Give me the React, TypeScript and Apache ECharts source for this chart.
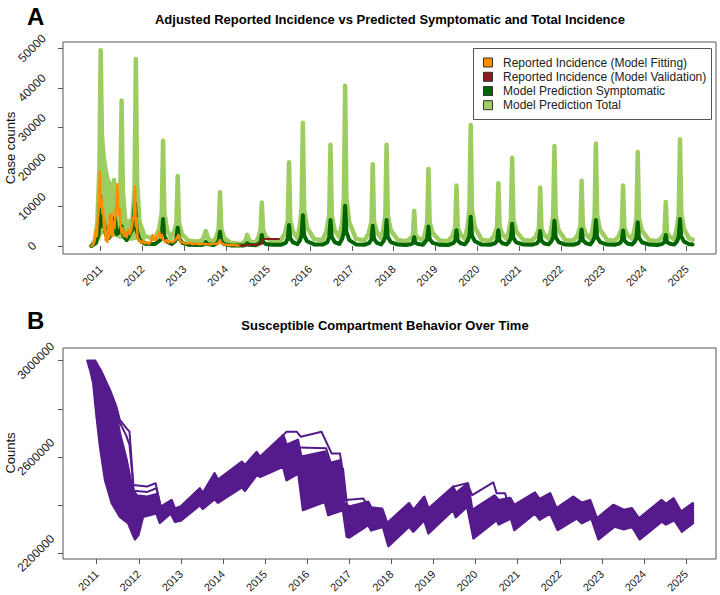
import React, { useEffect, useRef } from "react";
import * as echarts from "echarts";

const FONT = '"Liberation Sans", Arial, Helvetica, sans-serif';

const years = [2011, 2012, 2013, 2014, 2015, 2016, 2017, 2018, 2019, 2020, 2021, 2022, 2023, 2024, 2025];
const caseTicks = [0, 10000, 20000, 30000, 40000, 50000];
const countTicks = [2200000, 2400000, 2600000, 2800000, 3000000];
const countLabels = [2200000, 2600000, 3000000];

// Panel A: Model prediction total (light green)
const totalPrediction = [
  [2010.78, 0], [2010.86, 1500], [2010.92, 6000], [2010.97, 20000], [2011.0, 49500], [2011.03, 28000],
  [2011.07, 22600], [2011.12, 19000], [2011.18, 12000], [2011.24, 9000], [2011.29, 12000], [2011.32, 16700],
  [2011.36, 9000], [2011.42, 8000], [2011.47, 14000], [2011.5, 36800], [2011.53, 14000], [2011.59, 6000],
  [2011.68, 3500], [2011.76, 7000], [2011.81, 15000], [2011.84, 47300], [2011.87, 16000], [2011.93, 6000],
  [2012.05, 2500], [2012.3, 1800], [2012.4, 4500], [2012.46, 8500], [2012.49, 26600], [2012.52, 8500],
  [2012.59, 4000], [2012.68, 2000], [2012.76, 3800], [2012.81, 6000], [2012.84, 17700], [2012.87, 6000],
  [2012.94, 3000], [2013.1, 1300], [2013.35, 1100], [2013.45, 1800], [2013.51, 3800], [2013.57, 1800],
  [2013.7, 1000], [2013.77, 2500], [2013.82, 4500], [2013.85, 13600], [2013.88, 4500], [2013.95, 2000],
  [2014.1, 800], [2014.35, 500], [2014.45, 1200], [2014.5, 2800], [2014.56, 1200], [2014.7, 800],
  [2014.77, 2300], [2014.82, 4000], [2014.85, 11000], [2014.88, 4000], [2014.95, 2200], [2015.1, 1200],
  [2015.3, 1400], [2015.4, 3100], [2015.47, 6400], [2015.5, 21200], [2015.53, 6400], [2015.6, 3500],
  [2015.7, 2000], [2015.75, 4700], [2015.8, 9400], [2015.83, 31200], [2015.86, 9400], [2015.93, 4700], [2016.1, 1700],
  [2016.3, 1500], [2016.39, 3600], [2016.46, 7700], [2016.49, 25600], [2016.52, 7700], [2016.59, 4000],
  [2016.7, 2200], [2016.77, 5900], [2016.81, 12200], [2016.84, 40500], [2016.87, 12200], [2016.94, 5900], [2017.1, 1800],
  [2017.3, 1400], [2017.4, 3100], [2017.47, 6200], [2017.5, 20700], [2017.53, 6200], [2017.6, 3500],
  [2017.7, 2000], [2017.75, 4000], [2017.8, 7700], [2017.83, 25600], [2017.86, 7700], [2017.93, 4000], [2018.1, 1500],
  [2018.3, 1200], [2018.4, 1900], [2018.46, 2700], [2018.49, 8900], [2018.52, 2700], [2018.59, 2000],
  [2018.7, 1500], [2018.75, 3300], [2018.8, 5900], [2018.83, 19500], [2018.86, 5900], [2018.93, 3300], [2019.1, 1400],
  [2019.3, 1200], [2019.4, 2500], [2019.47, 4600], [2019.5, 15300], [2019.53, 4600], [2019.6, 2800],
  [2019.7, 1800], [2019.76, 4700], [2019.81, 9200], [2019.84, 30600], [2019.87, 9200], [2019.94, 4700], [2020.1, 1600],
  [2020.3, 1300], [2020.4, 2600], [2020.47, 4800], [2020.5, 15900], [2020.53, 4800], [2020.6, 2900],
  [2020.7, 1800], [2020.75, 3700], [2020.8, 6700], [2020.83, 22300], [2020.86, 6700], [2020.93, 3700], [2021.1, 1500],
  [2021.3, 1300], [2021.4, 2500], [2021.47, 4400], [2021.5, 14800], [2021.53, 4400], [2021.6, 2800],
  [2021.7, 1800], [2021.76, 4000], [2021.81, 7600], [2021.84, 25300], [2021.87, 7600], [2021.94, 4000], [2022.1, 1500],
  [2022.29, 1300], [2022.39, 2600], [2022.46, 5000], [2022.49, 16500], [2022.52, 5000], [2022.59, 3000],
  [2022.7, 1800], [2022.75, 4100], [2022.8, 7800], [2022.83, 25900], [2022.86, 7800], [2022.93, 4100], [2023.1, 1500],
  [2023.28, 1300], [2023.38, 2500], [2023.45, 4600], [2023.48, 15300], [2023.51, 4600], [2023.58, 2800],
  [2023.7, 1800], [2023.75, 3900], [2023.8, 7100], [2023.83, 23800], [2023.86, 7100], [2023.93, 3900], [2024.1, 1500],
  [2024.3, 1200], [2024.4, 2100], [2024.47, 3300], [2024.5, 11100], [2024.53, 3300], [2024.6, 2300],
  [2024.7, 1700], [2024.76, 4200], [2024.81, 8100], [2024.84, 27000], [2024.87, 8100], [2024.94, 4200],
  [2025.05, 2000], [2025.14, 1600],
];

// Spread of total-prediction trajectories during the first epidemic year
const totalSpreadUpper = [
  [2010.84, 500], [2010.9, 5000], [2010.94, 12000], [2010.98, 30000], [2011.03, 26000], [2011.08, 22600],
  [2011.14, 19500], [2011.2, 17000], [2011.26, 15500], [2011.32, 16700], [2011.37, 12000], [2011.42, 10500],
  [2011.48, 12000], [2011.55, 10000], [2011.62, 6600], [2011.7, 6600], [2011.77, 7500], [2011.83, 12000],
  [2011.9, 6000], [2011.97, 3000], [2012.05, 2000],
];
const totalSpreadLower = [
  [2010.84, 0], [2010.92, 500], [2011.0, 2500], [2011.08, 4000], [2011.16, 3500], [2011.26, 2500],
  [2011.36, 2500], [2011.46, 2000], [2011.56, 1800], [2011.66, 1500], [2011.76, 1500], [2011.86, 1800],
  [2011.96, 1500], [2012.05, 1200],
];

// Panel A: Model prediction symptomatic (dark green)
const symptomaticPrediction = [
  [2010.78, 0], [2010.88, 800], [2010.95, 3000], [2010.99, 12500], [2011.03, 5000], [2011.08, 6000],
  [2011.12, 3000], [2011.2, 2000], [2011.28, 3500], [2011.34, 7100], [2011.38, 3000], [2011.45, 3500],
  [2011.5, 5000], [2011.55, 2500], [2011.62, 1500], [2011.7, 3000], [2011.77, 4500], [2011.82, 10800],
  [2011.86, 4000], [2011.93, 1500], [2012.05, 600], [2012.3, 500], [2012.42, 1500], [2012.46, 2500],
  [2012.49, 6800], [2012.52, 2500], [2012.6, 1000], [2012.7, 500], [2012.78, 1200], [2012.81, 2000],
  [2012.84, 4600], [2012.87, 2000], [2012.95, 800], [2013.1, 300], [2013.4, 250], [2013.48, 500],
  [2013.51, 1000], [2013.55, 500], [2013.7, 250], [2013.78, 700], [2013.82, 1300], [2013.85, 3600],
  [2013.88, 1300], [2013.95, 500], [2014.1, 150], [2014.4, 100], [2014.47, 300], [2014.5, 700],
  [2014.55, 300], [2014.7, 200], [2014.78, 600], [2014.82, 1000], [2014.85, 2800], [2014.88, 1000],
  [2014.95, 500], [2015.1, 300],
  [2015.3, 300], [2015.42, 800], [2015.47, 1900], [2015.5, 5300], [2015.53, 1900], [2015.6, 900],
  [2015.7, 500], [2015.76, 1400], [2015.8, 2700], [2015.83, 7800], [2015.86, 2700], [2015.93, 1200], [2016.1, 400],
  [2016.3, 350], [2016.41, 900], [2016.46, 2300], [2016.49, 6600], [2016.52, 2300], [2016.59, 1000],
  [2016.7, 500], [2016.77, 1800], [2016.81, 3600], [2016.84, 10200], [2016.87, 3600], [2016.94, 1500], [2017.1, 400],
  [2017.3, 300], [2017.42, 800], [2017.47, 1800], [2017.5, 5100], [2017.53, 1800], [2017.6, 800],
  [2017.7, 400], [2017.76, 1300], [2017.8, 2300], [2017.83, 6600], [2017.86, 2300], [2017.93, 1000], [2018.1, 350],
  [2018.3, 250], [2018.42, 500], [2018.46, 800], [2018.49, 2200], [2018.52, 800], [2018.59, 500],
  [2018.7, 300], [2018.75, 1000], [2018.8, 1700], [2018.83, 4900], [2018.86, 1700], [2018.93, 800], [2019.1, 300],
  [2019.3, 250], [2019.42, 700], [2019.47, 1400], [2019.5, 4000], [2019.53, 1400], [2019.6, 700],
  [2019.7, 400], [2019.77, 1400], [2019.81, 2600], [2019.84, 7400], [2019.87, 2600], [2019.94, 1200], [2020.1, 350],
  [2020.3, 300], [2020.42, 700], [2020.47, 1400], [2020.5, 4000], [2020.53, 1400], [2020.6, 700],
  [2020.7, 400], [2020.76, 1100], [2020.8, 2000], [2020.83, 5600], [2020.86, 2000], [2020.93, 900], [2021.1, 350],
  [2021.3, 300], [2021.42, 650], [2021.47, 1300], [2021.5, 3800], [2021.53, 1300], [2021.6, 650],
  [2021.7, 400], [2021.77, 1200], [2021.81, 2200], [2021.84, 6400], [2021.87, 2200], [2021.94, 1000], [2022.1, 350],
  [2022.29, 300], [2022.41, 700], [2022.46, 1500], [2022.49, 4200], [2022.52, 1500], [2022.59, 700],
  [2022.7, 400], [2022.76, 1300], [2022.8, 2300], [2022.83, 6600], [2022.86, 2300], [2022.93, 1000], [2023.1, 350],
  [2023.28, 300], [2023.4, 650], [2023.45, 1400], [2023.48, 3900], [2023.51, 1400], [2023.58, 650],
  [2023.7, 400], [2023.76, 1100], [2023.8, 2100], [2023.83, 6000], [2023.86, 2100], [2023.93, 950], [2024.1, 350],
  [2024.3, 250], [2024.42, 550], [2024.47, 1000], [2024.5, 2800], [2024.53, 1000], [2024.6, 550],
  [2024.7, 350], [2024.77, 1200], [2024.81, 2400], [2024.84, 6800], [2024.87, 2400], [2024.94, 1100],
  [2025.05, 500], [2025.14, 400],
];

// Panel A: reported incidence used for fitting (orange)
const reportedFitting = [
  [2010.78, 0], [2010.82, 300], [2010.86, 1500], [2010.89, 4000], [2010.91, 2500], [2010.93, 6600],
  [2010.95, 9000], [2010.97, 15000], [2010.98, 18800], [2011.0, 10000], [2011.02, 12000], [2011.04, 8300],
  [2011.06, 9500], [2011.08, 4000], [2011.1, 6000], [2011.12, 1500], [2011.14, 3500], [2011.16, 1000],
  [2011.18, 5000], [2011.2, 2000], [2011.22, 7800], [2011.24, 3000], [2011.26, 8000], [2011.28, 2500],
  [2011.31, 6000], [2011.33, 4500], [2011.36, 9000], [2011.38, 11000], [2011.4, 15600], [2011.42, 9600],
  [2011.44, 8000], [2011.46, 9300], [2011.48, 5000], [2011.5, 3300], [2011.53, 4500], [2011.56, 2500],
  [2011.59, 3500], [2011.62, 2200], [2011.66, 4000], [2011.7, 3000], [2011.74, 4500], [2011.77, 6600],
  [2011.8, 8000], [2011.82, 15000], [2011.84, 5000], [2011.86, 7000], [2011.88, 2000], [2011.92, 1500],
  [2011.96, 800], [2012.0, 1200], [2012.05, 700], [2012.1, 1000], [2012.15, 600], [2012.2, 1200],
  [2012.24, 2800], [2012.26, 1500], [2012.29, 2200], [2012.32, 1500], [2012.36, 2500], [2012.4, 3600],
  [2012.43, 2000], [2012.46, 2800], [2012.5, 1500], [2012.54, 1000], [2012.58, 1500], [2012.62, 900],
  [2012.67, 1200], [2012.72, 900], [2012.78, 1500], [2012.82, 2000], [2012.86, 2800], [2012.89, 1500],
  [2012.92, 1000], [2012.98, 800], [2013.05, 600], [2013.12, 800], [2013.2, 500], [2013.28, 700],
  [2013.36, 400], [2013.44, 600], [2013.52, 500], [2013.6, 400], [2013.68, 600], [2013.76, 500],
  [2013.82, 900], [2013.85, 1500], [2013.88, 700], [2013.95, 400], [2014.02, 300], [2014.1, 200],
  [2014.18, 300], [2014.25, 150], [2014.33, 100],
];

// Panel A: reported incidence used for validation (dark red)
const reportedValidation = [
  [2014.33, 100], [2014.4, 150], [2014.48, 250], [2014.55, 200], [2014.62, 300], [2014.7, 350],
  [2014.78, 400], [2014.84, 500], [2014.88, 1700], [2014.95, 1800], [2015.05, 1800], [2015.15, 1800],
  [2015.26, 1800],
];

// Panel B: envelope of susceptible trajectories
const susceptibleUpper = [
  [2010.78, 3000000], [2010.96, 3000000], [2011.16, 2934000], [2011.32, 2865000], [2011.47, 2780000],
  [2011.55, 2698000], [2011.63, 2643000], [2011.71, 2588000], [2011.79, 2518000], [2011.87, 2463000],
  [2011.95, 2440000], [2012.2, 2435000], [2012.42, 2445000], [2012.5, 2400000], [2012.54, 2395000],
  [2012.78, 2421000], [2012.86, 2385000], [2013.0, 2395000], [2013.45, 2470000], [2013.52, 2450000],
  [2013.8, 2532000], [2013.88, 2505000], [2014.45, 2580000], [2014.52, 2565000], [2014.8, 2620000],
  [2014.88, 2600000], [2015.43, 2691000], [2015.51, 2650000], [2015.78, 2671000], [2015.86, 2601000],
  [2016.42, 2622000], [2016.52, 2574000], [2016.8, 2587000], [2016.88, 2408000], [2017.0, 2394000],
  [2017.45, 2414000], [2017.52, 2390000], [2017.78, 2385000], [2017.9, 2325000], [2018.42, 2408000],
  [2018.52, 2380000], [2018.78, 2435000], [2018.88, 2385000], [2019.47, 2477000], [2019.53, 2450000],
  [2019.82, 2490000], [2019.92, 2380000], [2020.45, 2440000], [2020.55, 2420000], [2020.82, 2430000],
  [2020.92, 2400000], [2021.41, 2452000], [2021.52, 2425000], [2021.77, 2449000], [2021.92, 2387000],
  [2022.32, 2435000], [2022.52, 2410000], [2022.72, 2421000], [2022.88, 2345000], [2023.27, 2401000],
  [2023.52, 2380000], [2023.71, 2387000], [2023.88, 2345000], [2024.42, 2421000], [2024.52, 2405000],
  [2024.7, 2428000], [2024.88, 2373000], [2025.16, 2408000],
];
const susceptibleLower = [
  [2010.78, 3000000], [2010.85, 2960000], [2010.92, 2906000], [2011.0, 2767000], [2011.08, 2643000],
  [2011.2, 2504000], [2011.36, 2408000], [2011.55, 2352000], [2011.75, 2325000], [2011.83, 2290000],
  [2011.91, 2258000], [2011.99, 2276000], [2012.1, 2352000], [2012.42, 2366000], [2012.5, 2327000],
  [2012.76, 2366000], [2012.86, 2331000], [2013.0, 2336000], [2013.45, 2400000], [2013.52, 2385000],
  [2013.8, 2425000], [2013.88, 2410000], [2014.45, 2475000], [2014.52, 2460000], [2014.8, 2525000],
  [2014.88, 2518000], [2015.43, 2560000], [2015.51, 2504000], [2015.79, 2532000], [2015.9, 2380000],
  [2016.42, 2414000], [2016.5, 2359000], [2016.85, 2380000], [2016.94, 2269000], [2017.0, 2266000],
  [2017.45, 2318000], [2017.52, 2295000], [2017.8, 2310000], [2017.93, 2230000], [2018.42, 2311000],
  [2018.52, 2290000], [2018.78, 2338000], [2018.88, 2283000], [2019.47, 2380000], [2019.53, 2350000],
  [2019.8, 2394000], [2019.95, 2262000], [2020.5, 2338000], [2020.55, 2320000], [2020.84, 2345000],
  [2020.92, 2297000], [2021.41, 2366000], [2021.52, 2340000], [2021.77, 2366000], [2021.95, 2297000],
  [2022.4, 2345000], [2022.52, 2325000], [2022.75, 2345000], [2022.92, 2258000], [2023.3, 2311000],
  [2023.52, 2300000], [2023.72, 2310000], [2023.9, 2258000], [2024.42, 2332000], [2024.52, 2320000],
  [2024.72, 2338000], [2024.9, 2290000], [2025.16, 2325000],
];

// Panel B: individual trajectories that leave the main envelope
const outlierEarly = [
  [2010.96, 3000000], [2011.1, 2960000], [2011.32, 2878000], [2011.47, 2809000], [2011.55, 2754000],
  [2011.71, 2719000], [2011.78, 2705000], [2011.87, 2484000], [2012.19, 2477000], [2012.4, 2491000],
  [2012.52, 2394000], [2012.56, 2390000],
];
const outlierEarly2 = [
  [2011.1, 2940000], [2011.32, 2850000], [2011.5, 2760000], [2011.7, 2690000], [2011.78, 2650000],
  [2011.88, 2460000], [2012.2, 2455000], [2012.42, 2470000], [2012.52, 2392000],
];
const outlierMid = [
  [2015.43, 2691000], [2015.51, 2705000], [2015.75, 2705000], [2015.85, 2684000], [2016.34, 2705000],
  [2016.58, 2615000], [2016.78, 2615000], [2016.92, 2421000], [2017.33, 2428000], [2017.5, 2380000],
  [2017.56, 2378000],
];
const outlierMid2 = [
  [2015.5, 2650000], [2015.6, 2640000], [2016.45, 2636000], [2016.6, 2553000], [2016.85, 2553000],
  [2016.95, 2394000], [2017.3, 2402000], [2017.45, 2405000],
];
const outlierLate = [
  [2019.47, 2477000], [2019.8, 2491000], [2019.92, 2442000], [2020.42, 2495000], [2020.5, 2449000],
  [2020.7, 2449000], [2020.8, 2394000], [2020.84, 2400000],
];

const LIGHT_GREEN = "#9dcd60";
const DARK_GREEN = "#006400";
const ORANGE = "#ff8c00";
const DARK_RED = "#8b1a1a";
const PURPLE = "#551a8b";
const BOX = "#555555";

function lineSeries(name: string, data: number[][], color: string, width: number, idx: number, z: number) {
  return {
    type: "line",
    name,
    data,
    xAxisIndex: idx,
    yAxisIndex: idx,
    showSymbol: false,
    symbol: "none",
    silent: true,
    clip: true,
    z,
    lineStyle: { color, width, join: "round", cap: "round" },
    itemStyle: { color },
  };
}

function bandSeries(name: string, upper: number[][], lower: number[][], color: string, idx: number, z: number, stroke: number) {
  return {
    type: "custom",
    name,
    xAxisIndex: idx,
    yAxisIndex: idx,
    silent: true,
    clip: true,
    z,
    data: [upper[0]],
    renderItem: (_params: any, api: any) => {
      const pts = upper
        .map((p) => api.coord(p))
        .concat(lower.slice().reverse().map((p) => api.coord(p)));
      return {
        type: "polygon",
        shape: { points: pts },
        style: { fill: color, stroke: color, lineWidth: stroke, lineJoin: "round" },
      };
    },
  };
}

function xAxisDef(gridIndex: number, min: number, max: number) {
  return {
    type: "value",
    gridIndex,
    min,
    max,
    axisLine: { show: false },
    splitLine: { show: false },
    axisTick: { show: true, length: 5, customValues: years, lineStyle: { color: BOX } },
    axisLabel: {
      customValues: years,
      rotate: 45,
      align: "right",
      verticalAlign: "middle",
      margin: 13,
      fontSize: 11,
      color: "#222",
      fontFamily: FONT,
      formatter: (v: number) => String(v),
    },
  };
}

function yAxisDef(gridIndex: number, min: number, max: number, ticks: number[], labels: number[], margin: number) {
  return {
    type: "value",
    gridIndex,
    min,
    max,
    axisLine: { show: false },
    splitLine: { show: false },
    axisTick: { show: true, length: 5, customValues: ticks, lineStyle: { color: BOX } },
    axisLabel: {
      customValues: labels,
      rotate: 45,
      align: "center",
      verticalAlign: "middle",
      margin,
      fontSize: 12,
      color: "#222",
      fontFamily: FONT,
      formatter: (v: number) => String(v),
    },
  };
}

const legendItems = [
  { label: "Reported Incidence (Model Fitting)", color: ORANGE },
  { label: "Reported Incidence (Model Validation)", color: DARK_RED },
  { label: "Model Prediction Symptomatic", color: DARK_GREEN },
  { label: "Model Prediction Total", color: LIGHT_GREEN },
];

export default function App() {
  const ref = useRef<HTMLDivElement>(null);

  useEffect(() => {
    if (!ref.current) return;
    const chart = echarts.init(ref.current, undefined, { renderer: "svg" });

    const legendGraphics: any[] = [
      {
        type: "rect",
        shape: { x: 473.5, y: 48.5, width: 238, height: 71 },
        style: { fill: "#fff", stroke: BOX, lineWidth: 1 },
        z: 100,
      },
    ];
    const rowY = [62.5, 76.8, 91, 105.2];
    legendItems.forEach((it, i) => {
      legendGraphics.push({
        type: "rect",
        shape: { x: 483.5, y: rowY[i] - 4.5, width: 9, height: 9 },
        style: { fill: it.color, stroke: "#333", lineWidth: 1 },
        z: 101,
      });
      legendGraphics.push({
        type: "text",
        x: 503,
        y: rowY[i],
        style: {
          text: it.label,
          fontSize: 12,
          fontFamily: FONT,
          fill: "#222",
          verticalAlign: "middle",
          align: "left",
        },
        z: 101,
      });
    });

    const axisTitle = (text: string, y: number) => ({
      type: "text",
      x: 10,
      y,
      rotation: Math.PI / 2,
      style: {
        text,
        fontSize: 13,
        fontFamily: FONT,
        fill: "#111",
        align: "center",
        verticalAlign: "middle",
      },
    });

    const option: any = {
      animation: false,
      backgroundColor: "#fff",
      textStyle: { fontFamily: FONT },
      grid: [
        {
          left: 63, top: 42, width: 653, height: 212, show: true, borderColor: BOX, borderWidth: 1,
          backgroundColor: "transparent", containLabel: false, outerBoundsMode: "none",
        },
        {
          left: 63, top: 348, width: 653, height: 211, show: true, borderColor: BOX, borderWidth: 1,
          backgroundColor: "transparent", containLabel: false, outerBoundsMode: "none",
        },
      ],
      xAxis: [xAxisDef(0, 2010.1, 2025.7), xAxisDef(1, 2010.2, 2025.71)],
      yAxis: [
        yAxisDef(0, -2023, 51593, caseTicks, caseTicks, 31),
        yAxisDef(1, 2176300, 3052700, countTicks, countLabels, 27),
      ],
      graphic: [
        {
          type: "text",
          x: 27,
          y: 16,
          style: { text: "A", fontSize: 24, fontWeight: "bold", fontFamily: FONT, fill: "#000", verticalAlign: "middle" },
        },
        {
          type: "text",
          x: 390,
          y: 19,
          style: {
            text: "Adjusted Reported Incidence vs Predicted Symptomatic and Total Incidence",
            fontSize: 13,
            fontWeight: "bold",
            fontFamily: FONT,
            fill: "#000",
            align: "center",
            verticalAlign: "middle",
          },
        },
        {
          type: "text",
          x: 27,
          y: 320,
          style: { text: "B", fontSize: 24, fontWeight: "bold", fontFamily: FONT, fill: "#000", verticalAlign: "middle" },
        },
        {
          type: "text",
          x: 385,
          y: 325,
          style: {
            text: "Susceptible Compartment Behavior Over Time",
            fontSize: 13,
            fontWeight: "bold",
            fontFamily: FONT,
            fill: "#000",
            align: "center",
            verticalAlign: "middle",
          },
        },
        axisTitle("Case counts", 148),
        axisTitle("Counts", 453),
        ...legendGraphics,
      ],
      series: [
        bandSeries("Model Prediction Total", totalSpreadUpper, totalSpreadLower, LIGHT_GREEN, 0, 1, 1.5),
        lineSeries("Model Prediction Total", totalPrediction, LIGHT_GREEN, 4.5, 0, 2),
        lineSeries("Model Prediction Symptomatic", symptomaticPrediction, DARK_GREEN, 4, 0, 3),
        lineSeries("Reported Incidence (Model Fitting)", reportedFitting, ORANGE, 2.5, 0, 4),
        lineSeries("Reported Incidence (Model Validation)", reportedValidation, DARK_RED, 2, 0, 5),
        bandSeries("Susceptible", susceptibleUpper, susceptibleLower, PURPLE, 1, 1, 2.5),
        lineSeries("Susceptible trajectory 1", outlierEarly, PURPLE, 2, 1, 2),
        lineSeries("Susceptible trajectory 2", outlierEarly2, PURPLE, 2, 1, 2),
        lineSeries("Susceptible trajectory 3", outlierMid, PURPLE, 2, 1, 2),
        lineSeries("Susceptible trajectory 4", outlierMid2, PURPLE, 2, 1, 2),
        lineSeries("Susceptible trajectory 5", outlierLate, PURPLE, 2, 1, 2),
      ],
    };

    chart.setOption(option);
    return () => chart.dispose();
  }, []);

  return (
    <div
      ref={ref}
      style={{ position: "absolute", left: 0, top: 0, width: 720, height: 595, background: "#fff" }}
    />
  );
}
